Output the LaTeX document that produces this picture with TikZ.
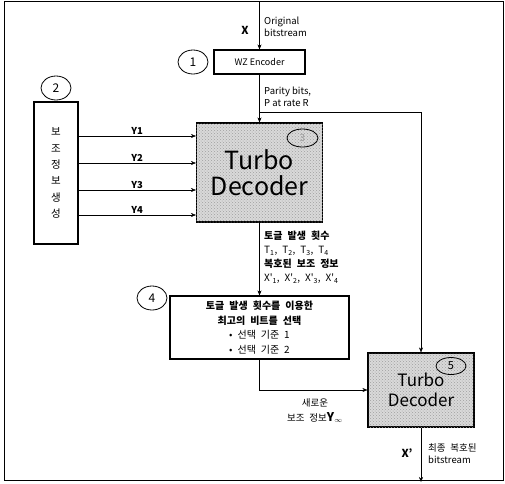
\documentclass[tikz,border=0pt]{standalone}
\usepackage{fontspec}
\setmainfont{Noto Sans CJK KR}
\newfontfamily\kr{Noto Sans CJK KR}[WordSpace=2.2]
\usetikzlibrary{arrows.meta,positioning,patterns,shapes.geometric}

\begin{document}
\begin{tikzpicture}[x=1pt, y=-1pt, >={Stealth[length=5pt, width=4pt]}, thin,
    box/.style={draw, very thick, inner sep=0pt, align=center},
    tdec/.style={box, fill=gray!30, postaction={pattern=crosshatch dots, pattern color=gray!75}},
    num/.style={draw, thick, ellipse, inner sep=0pt, minimum width=30pt, minimum height=24pt, font=\fontsize{12}{12}\selectfont},
    lbl/.style={inner sep=1pt, align=left, font=\fontsize{9.5}{11.5}\selectfont}]
    \useasboundingbox (0,0) rectangle (505,483);
    % Frame
    \draw[thick] (4,1) rectangle (503,480);

    % Blocks
    \node[box, minimum width=91pt, minimum height=24pt, font=\fontsize{9}{10}\selectfont] (enc) at (259.5,62) {WZ Encoder};
    \node[box, minimum width=44pt, minimum height=142pt, font=\fontsize{10.5}{16.3}\selectfont] (aux) at (56,173) {보\\조\\정\\보\\생\\성};
    \node[tdec, minimum width=126pt, minimum height=99pt, font=\fontsize{25}{26}\selectfont] (tdec1) at (259.5,172.5) {Turbo\\Decoder};
    \node[box, minimum width=179pt, minimum height=63pt, font=\kr\fontsize{10}{14.5}\selectfont] (sel) at (259.5,327.5)
        {\textbf{토글 발생 횟수를 이용한}\\\textbf{최고의 비트를 선택}\\• 선택 기준 1\\• 선택 기준 2};
    \node[tdec, minimum width=106pt, minimum height=74pt, font=\fontsize{17}{20}\selectfont] (tdec2) at (421,390) {Turbo\\Decoder};

    % Numbers
    \node[num] (n1) at (193,62) {1};
    \node[num] (n2) at (56,88) {2};
    \node[num, minimum width=31pt, minimum height=18pt, text=gray!80, font=\fontsize{10}{10}\selectfont] (n3) at (302.5,138) {3};
    \node[num] (n4) at (152,298) {4};
    \node[num, minimum width=30pt, minimum height=17pt, font=\fontsize{11}{11}\selectfont] (n5) at (451,366) {5};

    % Input and parity
    \coordinate (xin) at (259.5,1);
    \draw[->] (xin) -- (enc.north);
    \node[font=\bfseries\fontsize{11}{12}\selectfont] (xlbl) at (245,30) {X};
    \node[lbl, anchor=west] (orig) at (263,27) {Original\\bitstream};
    \draw[->] (enc.south) -- (tdec1.north);
    \node[lbl, anchor=west] (par) at (263,97) {Parity bits,\\P at rate R};
    \coordinate (br) at (259.5,112);
    \draw[->] (br) -| (tdec2.north);

    % Side information
    \foreach \i/\yy in {1/136, 2/163, 3/190, 4/215}
        \draw[->] (aux.east |- 0,\yy) -- (tdec1.west |- 0,\yy)
            node[midway, above, inner sep=1pt, font=\bfseries\fontsize{9.5}{10}\selectfont] {Y\i};

    % Toggle counts
    \draw[->] (tdec1.south) -- (sel.north);
    \node[lbl, anchor=north west, font=\kr\fontsize{10}{14}\selectfont] (cnt) at (263,230)
        {\textbf{토글 발생 횟수}\\T\textsubscript{1}, T\textsubscript{2}, T\textsubscript{3}, T\textsubscript{4}\\\textbf{복호된 보조 정보}\\X'\textsubscript{1}, X'\textsubscript{2}, X'\textsubscript{3}, X'\textsubscript{4}};

    % New side information
    \draw[->] (sel.south) |- (tdec2.west);
    \node[lbl, align=center, font=\kr\fontsize{9.5}{15}\selectfont] (ynew) at (315,411) {새로운\\보조 정보\textbf{\large Y}\textsubscript{$\infty$}};

    % Output
    \coordinate (xout) at (421,482);
    \draw[->] (tdec2.south) -- (xout);
    \node[font=\bfseries\fontsize{11}{12}\selectfont] (xolbl) at (407,453) {X'};
    \node[lbl, anchor=west, font=\kr\fontsize{9.5}{12}\selectfont] (fin) at (427,454) {최종 복호된\\bitstream};
\end{tikzpicture}
\end{document}
